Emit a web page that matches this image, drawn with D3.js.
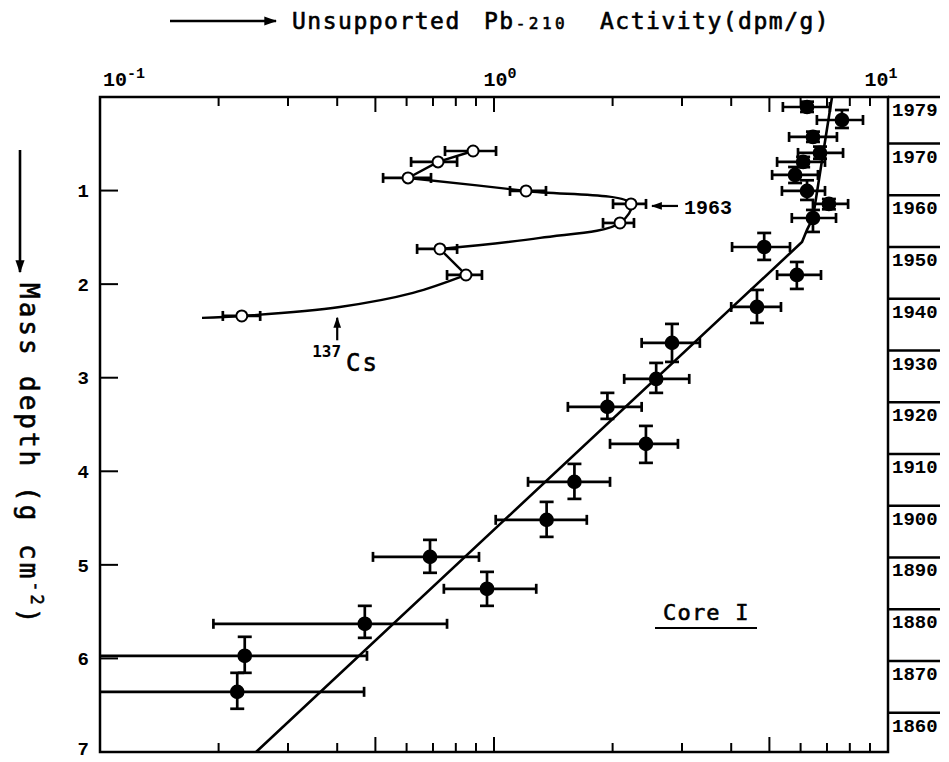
<!DOCTYPE html>
<html>
<head>
<meta charset="utf-8">
<script src="https://cdn.jsdelivr.net/npm/d3@7"></script>
<style>
  body { margin: 0; background: #fff; }
</style>
</head>
<body>
<div id="chart"></div>
<script>
// Pb-210 (filled circles): mass depth, activity and their error limits
const pbDepth   = [0.107, 0.246, 0.427, 0.598, 0.694, 0.833, 1.004, 1.143, 1.293, 1.603, 1.902, 2.244,
                   2.628, 3.013, 3.312, 3.707, 4.113, 4.519, 4.915, 5.256, 5.630, 5.972, 6.357];
const pbDepthLo = [0.05, 0.139, 0.37, 0.53, 0.64, 0.748, 0.89, 1.09, 1.207, 1.453, 1.763, 2.062,
                   2.425, 2.842, 3.162, 3.515, 3.921, 4.327, 4.733, 5.075, 5.438, 5.769, 6.154];
const pbDepthHi = [0.16, 0.331, 0.48, 0.66, 0.75, 0.919, 1.10, 1.20, 1.442, 1.741, 2.051, 2.415,
                   2.831, 3.162, 3.440, 3.910, 4.295, 4.701, 5.085, 5.438, 5.780, 6.154, 6.538];
const pbAct     = [6.23, 7.64, 6.45, 6.72, 6.09, 5.81, 6.23, 7.08, 6.45, 4.85, 5.87, 4.65,
                   2.83, 2.58, 1.94, 2.43, 1.60, 1.36, 0.688, 0.960, 0.470, 0.233, 0.223];
const pbActLo   = [5.41, 6.60, 5.61, 5.91, 5.23, 5.08, 5.38, 6.45, 5.70, 4.02, 5.23, 4.00,
                   2.37, 2.14, 1.54, 1.97, 1.22, 1.01, 0.493, 0.746, 0.194, 0.05, 0.05];
const pbActHi   = [7.12, 8.64, 7.42, 7.69, 6.92, 6.64, 6.92, 7.92, 7.38, 5.64, 6.76, 5.35,
                   3.33, 3.13, 2.37, 2.93, 1.97, 1.72, 0.916, 1.28, 0.760, 0.476, 0.468];

// fitted Pb-210 profile (two segments)
const fitDepth = [0, 1.29, 1.42, 1.55, 7.0];
const fitAct   = [7.21, 6.45, 6.23, 6.05, 0.249];

// Cs-137 (open circles)
const csDepth = [0.577, 0.694, 0.865, 1.004, 1.143, 1.346, 1.624, 1.902, 2.340];
const csAct   = [0.885, 0.721, 0.605, 1.206, 2.227, 2.088, 0.729, 0.849, 0.229];
const csActLo = [0.751, 0.616, 0.523, 1.098, 2.005, 1.891, 0.638, 0.760, 0.205];
const csActHi = [1.012, 0.806, 0.692, 1.355, 2.431, 2.266, 0.806, 0.932, 0.255];
// extra points: [activity, depth]
const csBend1 = [[1.309, 1.506]];
const csBend2 = [[0.623, 2.094], [0.406, 2.244]];
const csTail  = [0.1815, 2.361];

const depthTicks = [1, 2, 3, 4, 5, 6, 7];
const yearTicks = [1979, 1970, 1960, 1950, 1940, 1930, 1920, 1910, 1900, 1890, 1880, 1870, 1860];
const decadeLabels = [{ v: 0.1, exp: "-1", dx: 24 }, { v: 1, exp: "0", dx: 6 }, { v: 10, exp: "1", dx: -7 }];

const W = 949, H = 762;
const plotL = 100, plotR = 888, plotT = 97, plotB = 752;
const sans = "'DejaVu Sans Mono', monospace";
const bold = "'Liberation Mono', monospace";

const svg = d3.select("#chart").append("svg")
    .attr("width", W).attr("height", H);

const x = d3.scaleLog().domain([0.1, 10]).range([plotL, plotR]);
const y = d3.scaleLinear().domain([0, 7]).range([plotT, plotB]);
const yr = d3.scaleLinear().domain([1979, 1860]).range([y(0), y(6.58)]);

const defs = svg.append("defs");
defs.append("clipPath").attr("id", "plot")
    .append("rect").attr("x", plotL).attr("y", plotT)
    .attr("width", plotR - plotL).attr("height", plotB - plotT);

// arrow marker
defs.append("marker")
    .attr("id", "arrow").attr("viewBox", "0 0 10 10")
    .attr("refX", 9).attr("refY", 5)
    .attr("markerWidth", 5).attr("markerHeight", 5)
    .attr("markerUnits", "strokeWidth")
    .attr("orient", "auto")
    .append("path").attr("d", "M0,1.5 L10,5 L0,8.5 Z").attr("fill", "#000");

// frame
svg.append("rect")
    .attr("x", plotL).attr("y", plotT)
    .attr("width", plotR - plotL).attr("height", plotB - plotT)
    .attr("fill", "none").attr("stroke", "#000").attr("stroke-width", 2.5);

// log ticks top and bottom
const longTicks = [0.5, 1, 5];
const minor = x.ticks().filter(v => v > 0.1 && v < 10);
minor.forEach(v => {
    const len = longTicks.some(t => Math.abs(t - v) < 1e-9) ? 15 : 9;
    svg.append("line").attr("x1", x(v)).attr("x2", x(v))
        .attr("y1", plotT).attr("y2", plotT + len)
        .attr("stroke", "#000").attr("stroke-width", 2);
    svg.append("line").attr("x1", x(v)).attr("x2", x(v))
        .attr("y1", plotB).attr("y2", plotB - len)
        .attr("stroke", "#000").attr("stroke-width", 2);
});

// decade labels
decadeLabels.forEach(d => {
    const t = svg.append("text")
        .attr("x", x(d.v) + d.dx).attr("y", 86)
        .attr("text-anchor", "middle")
        .style("font-family", bold).style("font-weight", "bold").style("font-size", "20px");
    t.append("tspan").text("10");
    t.append("tspan").attr("dy", -8).style("font-size", "15px").text(d.exp);
});

// depth axis
depthTicks.forEach(d => {
    if (d < 7) {
        svg.append("line").attr("x1", plotL).attr("x2", plotL + 18)
            .attr("y1", y(d)).attr("y2", y(d))
            .attr("stroke", "#000").attr("stroke-width", 2);
    }
    svg.append("text")
        .attr("x", 89).attr("y", d < 7 ? y(d) : y(d) - 4).attr("dy", "0.35em")
        .attr("text-anchor", "end")
        .style("font-family", bold).style("font-weight", "bold").style("font-size", "19px")
        .text(d);
});

// year axis on the right
yearTicks.forEach(yy => {
    svg.append("line").attr("x1", plotR).attr("x2", 940)
        .attr("y1", yr(yy)).attr("y2", yr(yy))
        .attr("stroke", "#000").attr("stroke-width", 2.5);
    svg.append("text")
        .attr("x", 892).attr("y", yr(yy) + 19)
        .style("font-family", bold).style("font-weight", "bold").style("font-size", "19px")
        .text(yy);
});

// title
svg.append("line").attr("x1", 170).attr("x2", 276).attr("y1", 21).attr("y2", 21)
    .attr("stroke", "#000").attr("stroke-width", 2.6).attr("marker-end", "url(#arrow)");
const title = svg.append("text").attr("y", 29)
    .attr("stroke", "#000").attr("stroke-width", 0.6)
    .style("font-family", sans).style("font-size", "23px").style("letter-spacing", "1.5px");
title.append("tspan").attr("x", 292).text("Unsupported");
title.append("tspan").attr("x", 484).text("Pb");
title.append("tspan").attr("dx", 1).style("font-size", "16px").style("letter-spacing", "3.5px").text("-210");
title.append("tspan").attr("x", 600).text("Activity(dpm/g)");

// y-axis title
svg.append("line").attr("x1", 20).attr("x2", 20).attr("y1", 150).attr("y2", 272)
    .attr("stroke", "#000").attr("stroke-width", 2.6).attr("marker-end", "url(#arrow)");
const ytitle = svg.append("text")
    .attr("transform", "translate(20,283) rotate(90)")
    .attr("stroke", "#000").attr("stroke-width", 0.6)
    .style("font-family", sans).style("font-size", "26px").style("letter-spacing", "3px");
ytitle.append("tspan").attr("x", 0).text("Mass");
ytitle.append("tspan").attr("x", 93).text("depth");
ytitle.append("tspan").attr("x", 203).text("(g");
ytitle.append("tspan").attr("x", 261).text("cm");
ytitle.append("tspan").attr("dy", -11).style("font-size", "17px").text("-2");
ytitle.append("tspan").attr("dy", 11).text(")");

// fitted line
const fitLine = d3.line().x(d => x(d[0])).y(d => y(d[1]));
svg.append("path")
    .datum(d3.zip(fitAct, fitDepth))
    .attr("clip-path", "url(#plot)")
    .attr("d", fitLine)
    .attr("fill", "none").attr("stroke", "#000").attr("stroke-width", 2.6);

// Cs curve
const csPts = d3.zip(csAct, csDepth);
const straight = d3.line().x(d => x(d[0])).y(d => y(d[1]));
const smooth = d3.line().x(d => x(d[0])).y(d => y(d[1])).curve(d3.curveCatmullRom.alpha(0.5));
const csPieces = [
    { pts: csPts.slice(0, 3), gen: straight },
    { pts: [...csPts.slice(2, 6), ...csBend1, csPts[6]], gen: smooth },
    { pts: csPts.slice(6, 8), gen: straight },
    { pts: [csPts[7], ...csBend2, csPts[8], csTail], gen: smooth }
];
csPieces.forEach(p => {
    svg.append("path").attr("d", p.gen(p.pts))
        .attr("fill", "none").attr("stroke", "#000").attr("stroke-width", 2.4);
});

// Pb error bars and points
const pb = svg.append("g").attr("clip-path", "url(#plot)")
    .attr("stroke", "#000").attr("stroke-width", 2.7);
pbAct.forEach((v, i) => {
    const cy = y(pbDepth[i]), cx = x(v);
    const x0 = x(pbActLo[i]), x1 = x(pbActHi[i]);
    const y0 = y(pbDepthLo[i]), y1 = y(pbDepthHi[i]);
    pb.append("line").attr("x1", x0).attr("x2", x1).attr("y1", cy).attr("y2", cy);
    [x0, x1].forEach(xx => pb.append("line").attr("x1", xx).attr("x2", xx)
        .attr("y1", cy - 5).attr("y2", cy + 5));
    pb.append("line").attr("x1", cx).attr("x2", cx).attr("y1", y0).attr("y2", y1);
    [y0, y1].forEach(yy => pb.append("line").attr("x1", cx - 7).attr("x2", cx + 7)
        .attr("y1", yy).attr("y2", yy));
    pb.append("circle").attr("cx", cx).attr("cy", cy).attr("r", 6).attr("fill", "#000");
});

// Cs error bars and open circles
const cs = svg.append("g").attr("stroke", "#000").attr("stroke-width", 2.7);
csAct.forEach((v, i) => {
    const cy = y(csDepth[i]), cx = x(v);
    const x0 = x(csActLo[i]), x1 = x(csActHi[i]);
    cs.append("line").attr("x1", x0).attr("x2", x1).attr("y1", cy).attr("y2", cy);
    [x0, x1].forEach(xx => cs.append("line").attr("x1", xx).attr("x2", xx)
        .attr("y1", cy - 5).attr("y2", cy + 5));
    cs.append("circle").attr("cx", cx).attr("cy", cy).attr("r", 5.5)
        .attr("fill", "#fff").attr("stroke-width", 2);
});

// 1963 annotation
const ex = x(csAct[4]), ey = y(csDepth[4]);
svg.append("line").attr("x1", ex + 47).attr("x2", ex + 21).attr("y1", ey + 2).attr("y2", ey + 2)
    .attr("stroke", "#000").attr("stroke-width", 2.2).attr("marker-end", "url(#arrow)");
svg.append("text").attr("x", ex + 53).attr("y", ey + 10)
    .style("font-family", bold).style("font-weight", "bold").style("font-size", "20px")
    .text("1963");

// 137Cs annotation
const ax = x(0.40);
svg.append("line").attr("x1", ax).attr("x2", ax).attr("y1", y(2.6)).attr("y2", y(2.36))
    .attr("stroke", "#000").attr("stroke-width", 2.2).attr("marker-end", "url(#arrow)");
const csLab = svg.append("text").attr("x", ax - 25).attr("y", 371)
    .style("font-family", sans).style("font-size", "24px");
csLab.append("tspan").attr("dy", -14).style("font-size", "16px").style("font-weight", "bold").text("137");
csLab.append("tspan").attr("dy", 14).attr("dx", 5).style("letter-spacing", "2px")
    .attr("stroke", "#000").attr("stroke-width", 0.6).text("Cs");

// Core I label
svg.append("text").attr("x", 663).attr("y", 620)
    .attr("stroke", "#000").attr("stroke-width", 0.6)
    .style("font-family", sans).style("font-size", "22px").style("letter-spacing", "1.2px")
    .text("Core I");
svg.append("line").attr("x1", 655).attr("x2", 757).attr("y1", 628).attr("y2", 628)
    .attr("stroke", "#000").attr("stroke-width", 2.2);
</script>
</body>
</html>
